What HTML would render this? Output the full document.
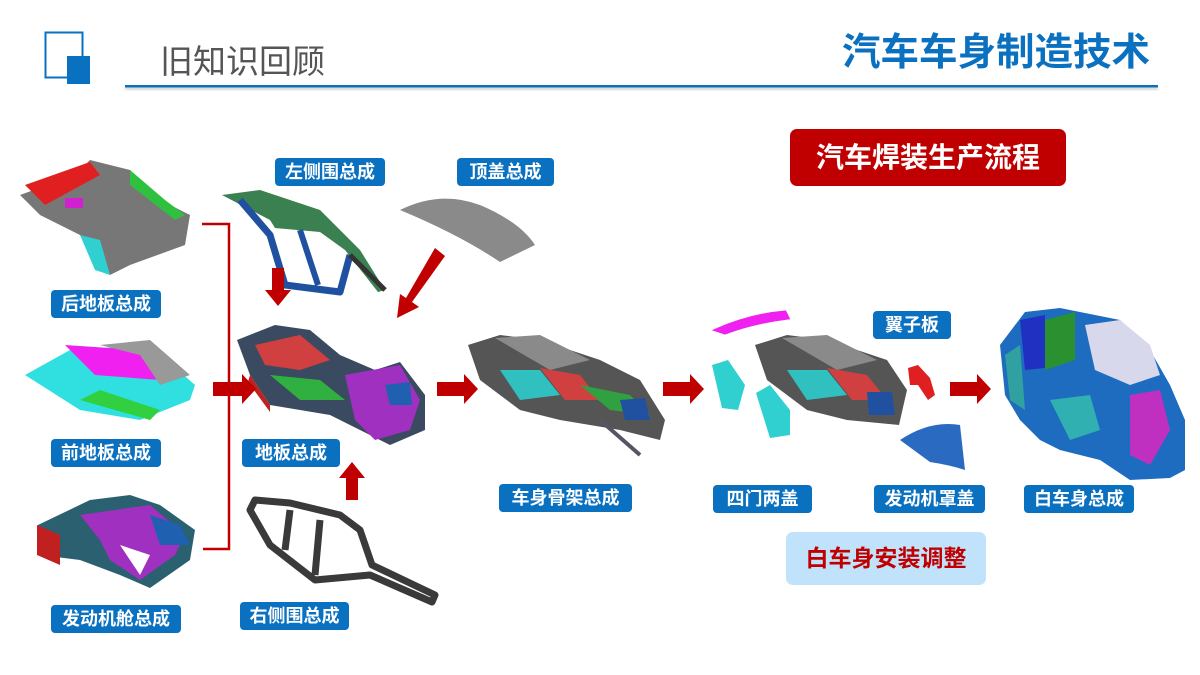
<!DOCTYPE html>
<html><head><meta charset="utf-8"><style>
html,body{margin:0;padding:0;background:#fff}
body{width:1200px;height:675px;position:relative;overflow:hidden;font-family:"Liberation Sans","Noto Sans CJK SC",sans-serif}
.lb{position:absolute;height:28px;line-height:28px;background:#0a70c0;color:#fff;font-weight:bold;font-size:18px;text-align:center;border-radius:4px}
svg{position:absolute;left:0;top:0}
</style></head><body>
<svg width="1200" height="675" viewBox="0 0 1200 675">
<defs>
<filter id="sh"><feGaussianBlur stdDeviation="1.5"/></filter>
</defs>
<rect x="45.5" y="32.5" width="37" height="45" fill="none" stroke="#0a70c0" stroke-width="2"/>
<rect x="67" y="56" width="23" height="28" fill="#0a70c0"/>
<rect x="125" y="87" width="1033" height="3" fill="#ccc" filter="url(#sh)"/>
<rect x="125" y="85" width="1033" height="2.5" fill="#0a70c0"/>
<text x="160" y="73" font-size="33" fill="#555" font-family="Liberation Sans, Noto Sans CJK SC, sans-serif">旧知识回顾</text>
<text x="842" y="65" font-size="38" font-weight="bold" fill="#0a70c0" textLength="308" lengthAdjust="spacingAndGlyphs" font-family="Liberation Sans, Noto Sans CJK SC, sans-serif">汽车车身制造技术</text>

<!-- 后地板 -->
<g>
<polygon points="20,195 75,175 90,160 130,170 160,200 190,215 185,245 130,265 110,275 95,260 80,235 40,215" fill="#777"/>
<polygon points="25,185 90,162 100,175 45,205" fill="#e02020"/>
<polygon points="130,170 165,200 185,215 175,220 130,185" fill="#30c040"/>
<polygon points="80,235 95,270 110,275 100,240" fill="#30d0d0"/>
<rect x="65" y="198" width="18" height="10" fill="#d020d0"/>
</g>
<!-- 前地板 -->
<g>
<polygon points="25,375 70,350 150,345 195,385 190,400 140,420 80,410" fill="#30e0e0"/>
<polygon points="65,345 140,350 160,380 95,375" fill="#f020f0"/>
<polygon points="100,345 150,340 190,375 160,385 140,355" fill="#999"/>
<polygon points="80,400 150,420 160,410 100,390" fill="#30d040"/>
</g>
<!-- 发动机舱 -->
<g>
<polygon points="38,525 90,500 130,495 160,505 195,530 190,560 150,588 120,575 80,560 40,555" fill="#2a6070"/>
<polygon points="37,525 60,535 60,565 37,555" fill="#c02020"/>
<polygon points="80,515 150,505 185,535 175,555 140,580 110,560 100,540" fill="#a030c0"/>
<polygon points="150,515 180,525 190,545 160,545" fill="#2060b0"/>
<polygon points="120,545 150,555 140,575" fill="#fff"/>
</g>
<!-- 左侧围 -->
<g fill="none" stroke-linejoin="round">
<path d="M222,195 L260,190 L320,210 L360,250 L385,290 L378,292 L345,250 L320,232 L275,228 L270,220 Z" fill="#3a8050"/>
<path d="M240,200 L270,235 L285,285 L340,292 L350,255" stroke="#2050a0" stroke-width="7"/>
<path d="M300,230 L318,285" stroke="#2050a0" stroke-width="6"/>
<path d="M350,255 L385,290" stroke="#333" stroke-width="5"/>
</g>
<!-- 顶盖 -->
<path d="M400,210 Q440,190 480,205 Q520,222 535,245 L500,262 Q460,235 400,210 Z" fill="#8a8a8a"/>
<!-- 地板总成 -->
<g>
<polygon points="237,340 275,325 310,330 340,355 375,370 400,362 425,395 425,430 390,445 360,430 330,415 270,405 250,375" fill="#3a4a60"/>
<polygon points="255,345 300,335 330,360 300,370 265,365" fill="#d04040"/>
<polygon points="270,375 320,380 345,400 300,400" fill="#30b040"/>
<polygon points="345,375 400,365 420,400 410,430 375,440 355,420" fill="#a030c0"/>
<polygon points="385,385 410,382 412,405 390,405" fill="#2060b0"/>
<polygon points="250,375 270,405 270,412 248,382" fill="#c02020"/>
</g>
<!-- 右侧围 -->
<g fill="none" stroke="#3a3a3a" stroke-linejoin="round">
<path d="M250,510 L255,500 L290,503 L340,515 L360,530 L372,565 L435,595 L432,602 L370,575 L315,580 L270,545 Z" stroke-width="7"/>
<path d="M290,510 L285,550 M320,520 L315,575" stroke-width="7"/>
</g>
<!-- 车身骨架 -->
<g>
<polygon points="468,345 500,335 540,340 600,360 640,380 665,420 660,440 620,430 560,420 520,410 480,380" fill="#555"/>
<polygon points="495,338 540,335 590,360 550,370" fill="#8a8a8a"/>
<polygon points="500,370 540,370 560,395 520,400" fill="#30c0c0"/>
<polygon points="540,368 580,375 600,400 565,400" fill="#d04040"/>
<polygon points="580,385 630,395 650,415 610,410" fill="#30a040"/>
<polygon points="620,400 645,398 650,420 625,420" fill="#2050a0"/>
<line x1="600" y1="420" x2="640" y2="455" stroke="#556" stroke-width="4"/>
</g>
<!-- 四门两盖 -->
<path d="M716,330 Q750,315 785,312 L788,318 Q755,322 725,333 Z" fill="#f020f0" stroke="#f020f0" stroke-width="3"/>
<polygon points="712,365 728,360 745,385 738,410 722,408" fill="#30d0d0"/>
<polygon points="756,393 770,385 790,410 790,435 770,438" fill="#30d0d0"/>
<g transform="translate(287,0)">
<polygon points="468,345 500,335 540,340 600,360 620,390 612,425 560,420 520,410 480,380" fill="#555"/>
<polygon points="495,338 540,335 590,360 550,370" fill="#8a8a8a"/>
<polygon points="500,370 540,370 560,395 520,400" fill="#30c0c0"/>
<polygon points="540,368 580,375 600,400 565,400" fill="#d04040"/>
<polygon points="580,392 605,392 608,415 582,415" fill="#2050a0"/>
</g>
<polygon points="908,368 918,365 930,378 935,395 928,400 918,385 910,385" fill="#e02020"/>
<path d="M900,440 Q930,420 960,425 L965,470 Q950,465 930,462 Z" fill="#2a6ac0"/>
<!-- 白车身 -->
<g>
<polygon points="1000,345 1025,312 1060,308 1120,320 1150,350 1170,385 1185,420 1185,470 1170,478 1130,480 1100,460 1060,450 1040,440 1020,420 1005,395" fill="#1e6cc0"/>
<polygon points="1045,320 1075,312 1075,360 1045,370" fill="#2a9030"/>
<polygon points="1020,320 1045,315 1045,368 1025,370" fill="#2030c0"/>
<polygon points="1085,325 1120,320 1150,345 1160,375 1130,385 1095,370" fill="#d8d8ec"/>
<polygon points="1130,395 1160,390 1170,430 1150,465 1130,455" fill="#c030c0"/>
<polygon points="1050,400 1090,395 1100,430 1070,440" fill="#30b0b0"/>
<polygon points="1005,355 1020,345 1025,410 1010,400" fill="#30a0a0"/>
</g>

<g fill="#c00000">
<polyline points="202,224 229,224 229,549 203,549" fill="none" stroke="#c00000" stroke-width="2.5"/>
<polygon points="213,382 242,382 242,374 256,389 242,404 242,396 213,396"/>
<polygon points="272,268 284,268 284,290 291,290 278,306 265,290 272,290"/>
<polygon points="346,500 358,500 358,478 365,478 352,462 339,478 346,478"/>
<polygon points="435,248 445,256 412,302 419,307 397,318 400,294 406,298"/>
<polygon points="437,382 464,382 464,374 478,389 464,404 464,396 437,396"/>
<polygon points="663,382 690,382 690,374 704,389 690,404 690,396 663,396"/>
<polygon points="950,382 977,382 977,374 991,389 977,404 977,396 950,396"/>
</g>
</svg>

<div class="lb" style="left:275px;top:158px;width:110px">左侧围总成</div>
<div class="lb" style="left:457px;top:158px;width:97px">顶盖总成</div>
<div class="lb" style="left:51px;top:290px;width:110px">后地板总成</div>
<div class="lb" style="left:51px;top:439px;width:110px">前地板总成</div>
<div class="lb" style="left:242px;top:439px;width:98px">地板总成</div>
<div class="lb" style="left:51px;top:605px;width:130px">发动机舱总成</div>
<div class="lb" style="left:240px;top:602px;width:109px">右侧围总成</div>
<div class="lb" style="left:499px;top:484px;width:133px">车身骨架总成</div>
<div class="lb" style="left:713px;top:485px;width:99px">四门两盖</div>
<div class="lb" style="left:874px;top:485px;width:111px">发动机罩盖</div>
<div class="lb" style="left:1024px;top:485px;width:110px">白车身总成</div>
<div class="lb" style="left:873px;top:311px;width:78px">翼子板</div>
<div style="position:absolute;left:790px;top:129px;width:276px;height:57px;background:#c00000;border-radius:7px;color:#fff;font-weight:bold;font-size:28px;line-height:57px;text-align:center">汽车焊装生产流程</div>
<div style="position:absolute;left:786px;top:532px;width:200px;height:53px;background:#c0e2fa;border-radius:7px;color:#c00000;font-weight:bold;font-size:23px;line-height:53px;text-align:center">白车身安装调整</div>
</body></html>
